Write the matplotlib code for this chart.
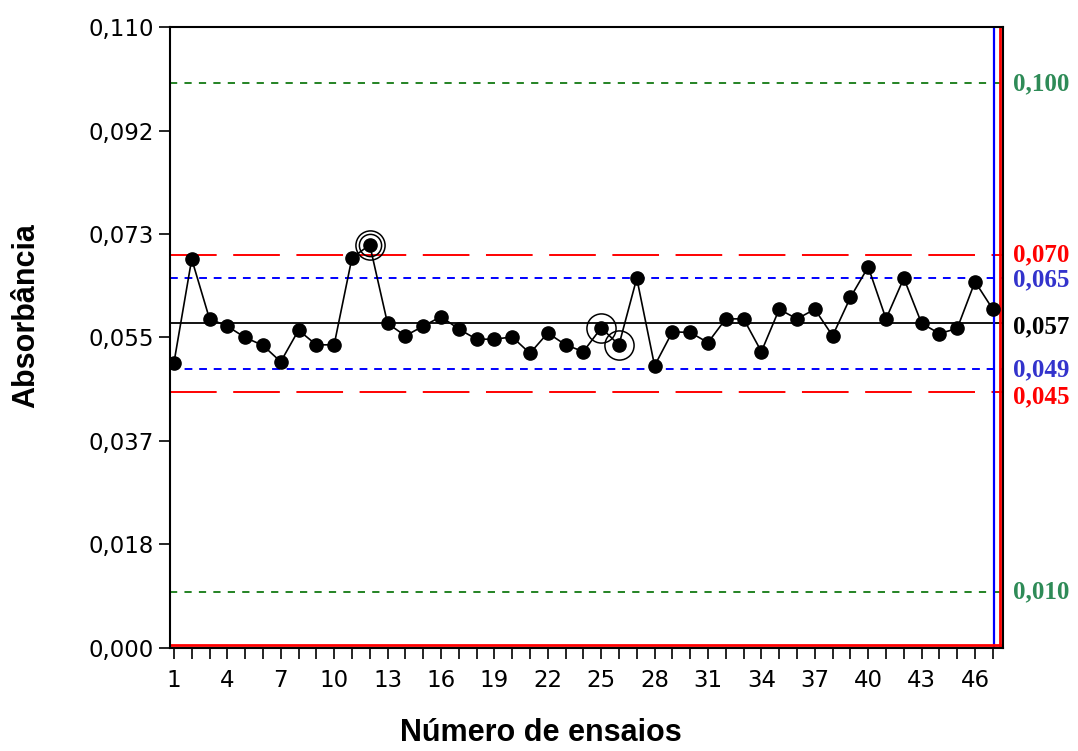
import numpy as np
import matplotlib
matplotlib.use("Agg")
import matplotlib.pyplot as plt
from matplotlib.ticker import FixedLocator, MultipleLocator

## dados ##
ensaios = np.arange(1, 48)
absorb = [0.0505, 0.0689, 0.0583, 0.0570, 0.0550, 0.0536, 0.0507, 0.0563, 0.0537, 0.0537,
          0.0691, 0.0714, 0.0575, 0.0553, 0.0570, 0.0587, 0.0565, 0.0547, 0.0547, 0.0551,
          0.0522, 0.0558, 0.0537, 0.0525, 0.0567, 0.0537, 0.0655, 0.0500, 0.0560, 0.0559,
          0.0541, 0.0583, 0.0583, 0.0525, 0.0600, 0.0583, 0.0600, 0.0553, 0.0621, 0.0675,
          0.0583, 0.0655, 0.0575, 0.0557, 0.0566, 0.0649, 0.0600]

lc = 0.0575
lsc, lic = 0.0697, 0.0453      # limites de controle
lsa, lia = 0.0655, 0.0495      # limites de alerta
lse, lie = 0.100, 0.010        # limites de especificacao

rotulos_dir = [("0,100", 0.100, "#2e8b57"), ("0,010", 0.010, "#2e8b57"),
               ("0,070", 0.0696, "red"), ("0,045", 0.0445, "red"),
               ("0,065", 0.0652, "#3333cc"), ("0,049", 0.0492, "#3333cc"),
               ("0,057", 0.0569, "black")]

circ_duplo = [12]
circ_simples = [25, 26]

yticks = [0.110 * k / 6 for k in range(7)]

fig = plt.figure(figsize=(10.78, 7.51), dpi=100)
ax = fig.add_axes([0.1577, 0.1372, 0.9304 - 0.1577, 0.964 - 0.1372])

ax.axhline(lse, color="#137a13", ls=(0, (4, 4)), lw=1.3, zorder=1)
ax.axhline(lie, color="#137a13", ls=(0, (4, 4)), lw=1.3, zorder=1)
ax.axhline(lsc, color="red", ls=(0, (24, 8.5)), lw=1.4, zorder=1)
ax.axhline(lic, color="red", ls=(0, (24, 8.5)), lw=1.4, zorder=1)
ax.axhline(lsa, color="blue", ls=(0, (4, 3.5)), lw=1.4, zorder=1)
ax.axhline(lia, color="blue", ls=(0, (4, 3.5)), lw=1.4, zorder=1)
ax.axhline(lc, color="black", lw=1.3, zorder=1)

ax.plot(ensaios, absorb, color="black", lw=1.2, marker="o", ms=9.5, zorder=3)

# circulos de pontos suspeitos
for i in circ_duplo:
    ax.plot(i, absorb[i - 1], marker="o", mfc="none", mec="black", ms=21, mew=1.1, zorder=4)
    ax.plot(i, absorb[i - 1], marker="o", mfc="none", mec="black", ms=16, mew=1.1, zorder=4)
for i in circ_simples:
    ax.plot(i, absorb[i - 1], marker="o", mfc="none", mec="black", ms=21, mew=1.1, zorder=4)

ax.axvline(47.05, color="blue", lw=1.6, zorder=2)
ax.plot([0.9965, 0.9965], [0, 1], color="red", lw=2, transform=ax.transAxes, zorder=2)
ax.plot([0, 1], [0.004, 0.004], color="red", lw=2, transform=ax.transAxes, zorder=2)

ax.set_xlim(0.78, 47.57)
ax.set_ylim(0, 0.110)
ax.yaxis.set_major_locator(FixedLocator(yticks))
ax.set_yticklabels([f"{v:.3f}".replace(".", ",") for v in yticks])
ax.xaxis.set_major_locator(FixedLocator(list(range(1, 47, 3))))
ax.xaxis.set_minor_locator(MultipleLocator(1))
ax.tick_params(axis="both", which="both", direction="out", length=8, width=1.2,
               labelsize=16.5, colors="black")
ax.tick_params(axis="x", which="both", pad=7)
for lab in ax.get_xticklabels() + ax.get_yticklabels():
    lab.set_fontfamily("DejaVu Sans")
for s in ax.spines.values():
    s.set_linewidth(1.5)

for txt, ypos, cor in rotulos_dir:
    ax.text(1.012, ypos, txt, transform=ax.get_yaxis_transform(), color=cor,
            fontsize=18, fontweight="bold", family="Liberation Serif", va="center", ha="left")

fig.text(0.502, 0.004, "Número de ensaios", ha="center", va="bottom", fontsize=22,
         fontweight="bold", family="Liberation Sans")
fig.text(0.024, 0.58, "Absorbância", ha="center", va="center", rotation=90, fontsize=22,
         fontweight="bold", family="Liberation Sans")

fig.savefig("out.png", dpi=100)
